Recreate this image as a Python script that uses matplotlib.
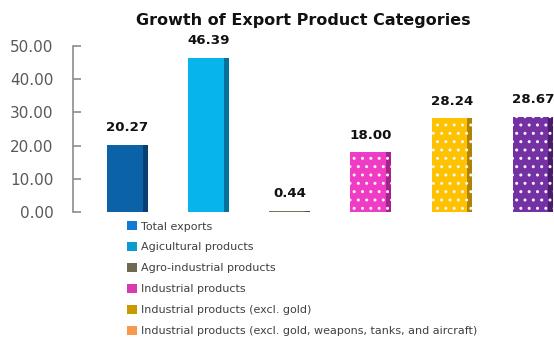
import matplotlib.pyplot as plt
import numpy as np
from matplotlib.patches import Patch

# dados
categorias = [
    "Total exports",
    "Agicultural products",
    "Agro-industrial products",
    "Industrial products",
    "Industrial products (excl. gold)",
    "Industrial products (excl. gold, weapons, tanks, and aircraft)",
]
valores = [20.27, 46.39, 0.44, 18.00, 28.24, 28.67]
rotulos = ["20.27", "46.39", "0.44", "18.00", "28.24", "28.67"]
y_ticks = [0, 10, 20, 30, 40, 50]

cores_barra = ["#0b62a6", "#08b4ec", "#77735c", "#f03cc4", "#ffc200", "#7431a4"]
cores_sombra = ["#063f70", "#06719a", "#4f4c3c", "#a8208a", "#b08400", "#4a1a6e"]
cores_legenda = ["#1479d2", "#0a9ccc", "#6e6a50", "#d63cb0", "#c89a00", "#f79a4f"]
pontilhado = [False, False, False, True, True, True]

fig = plt.figure(figsize=(5.54, 3.42), dpi=100)
ax = fig.add_axes([73 / 554, 1 - 212 / 342, 1 - 73 / 554, (212 - 46) / 342])

x = np.arange(len(valores))
largura = 0.5
faixa = largura * 0.12

for i in range(len(valores)):
    ax.bar(x[i], valores[i], width=largura, color=cores_barra[i], linewidth=0,
           zorder=2, clip_on=False)
    # lado direito mais escuro pra imitar o chanfro
    ax.bar(x[i] + largura / 2 - faixa, valores[i], width=faixa, align="edge",
           color=cores_sombra[i], linewidth=0, zorder=3, clip_on=False)
    if pontilhado[i]:
        ax.bar(x[i], valores[i], width=largura, color="none", edgecolor="#f4f4f4",
               hatch="..", linewidth=0, zorder=4, clip_on=False)
    ax.text(x[i], valores[i] + 3.2, rotulos[i], ha="center", va="bottom",
            fontsize=9.6, fontweight="semibold", color="#111111")

ax.set_xlim(-0.67, 5.26)
ax.set_ylim(0, 50)
ax.set_yticks(y_ticks)
ax.set_yticklabels([f"{v:.2f}" for v in y_ticks], fontsize=11, color="#595959")
ax.tick_params(axis="y", direction="in", length=6, width=1.2, color="#8c8c8c", pad=14)
ax.set_xticks([])
for lado in ["top", "right", "bottom"]:
    ax.spines[lado].set_visible(False)
ax.spines["left"].set_color("#8c8c8c")
ax.spines["left"].set_linewidth(1.2)

fig.text(0.548, 0.94, "Growth of Export Product Categories", ha="center", va="center",
         fontsize=11.5, fontweight="bold", color="#111111")

handles = [Patch(facecolor=c, edgecolor="none") for c in cores_legenda]
fig.legend(handles, categorias, loc="upper left", bbox_to_anchor=(0.23, 0.353),
           frameon=False, fontsize=8, labelcolor="#404040", handlelength=0.85,
           handleheight=0.85, handletextpad=0.35, labelspacing=0.96,
           borderaxespad=0, borderpad=0)

fig.savefig("out.png", dpi=100)
